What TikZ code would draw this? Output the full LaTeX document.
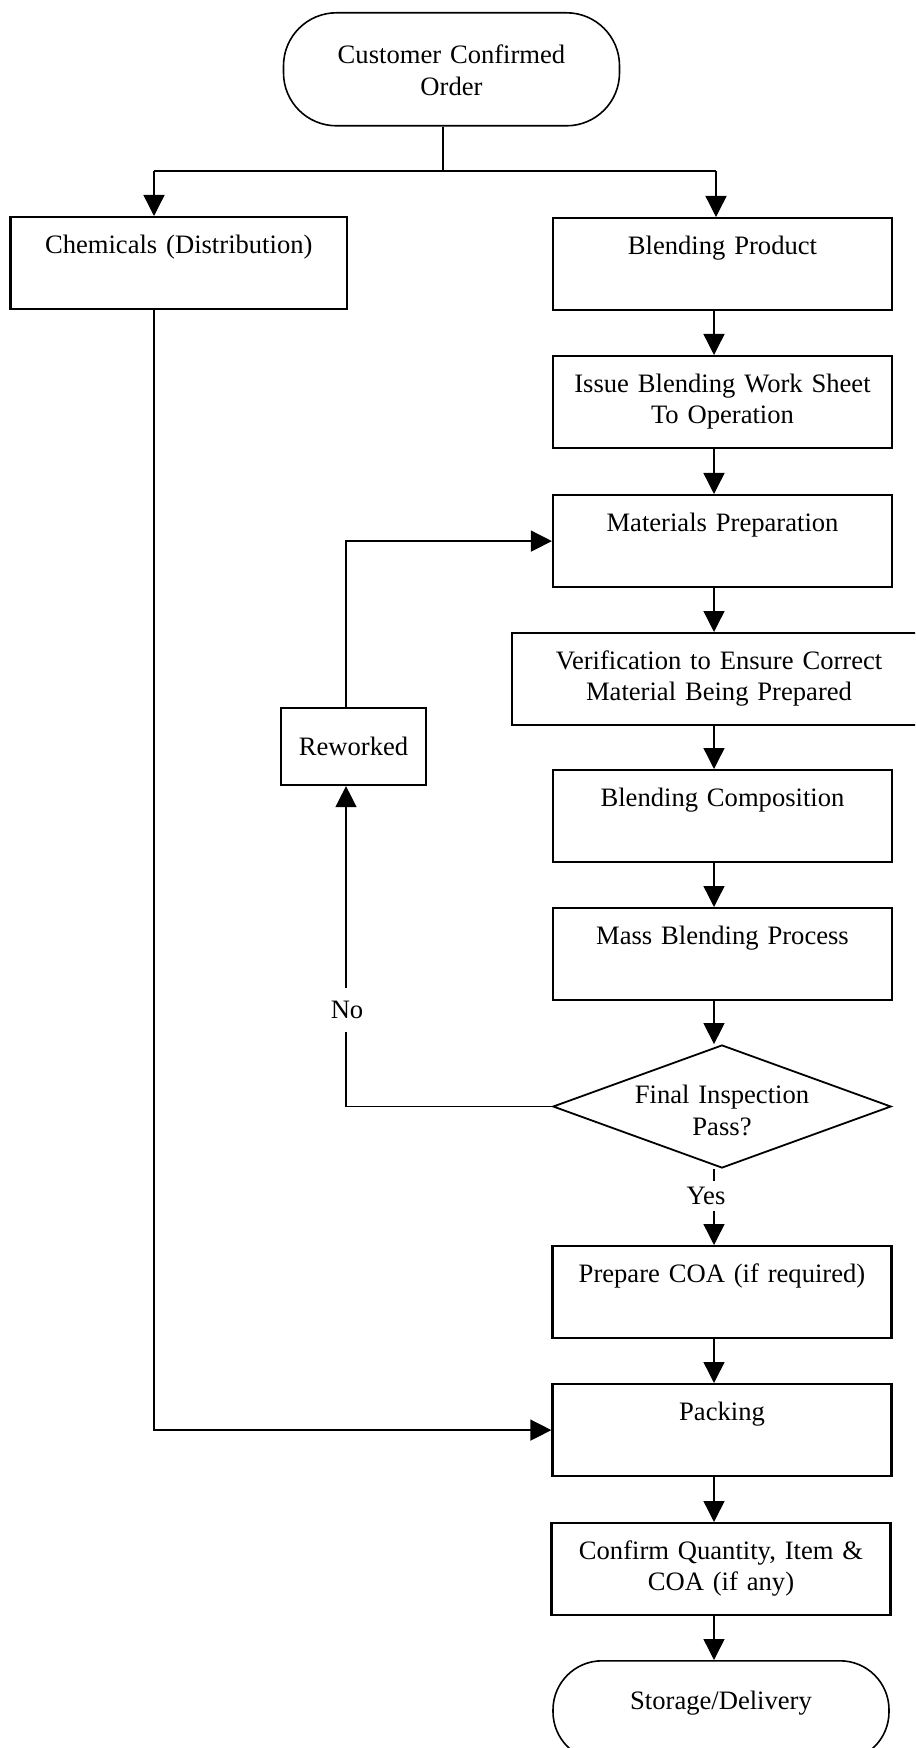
\documentclass[tikz,border=0pt]{standalone}
\usepackage{fontspec}
\setmainfont{Liberation Serif}
\usetikzlibrary{arrows.meta,shapes.geometric}

\begin{document}
\begin{tikzpicture}[x=0.5pt,y=-0.5pt,
  font=\fontsize{13.3pt}{15.75pt}\selectfont,
  procbox/.style={draw, line width=1.1pt, rectangle, align=center, inner sep=0pt,
    text width=#1, text height=18pt, text depth=28pt},
  procbox/.default=169.5pt,
  terminal/.style={draw, line width=0.8pt, rectangle, rounded corners=#1,
    align=center, inner sep=0pt, text width=168pt},
  terminal/.default=24pt,
  decision/.style={diamond, draw, line width=0.9pt, aspect=2.75, inner sep=0pt,
    minimum width=169pt, minimum height=61.5pt, align=center, text width=90pt,
    text height=13pt, text depth=15.75pt},
  reworkbox/.style={draw, line width=1.1pt, rectangle, minimum width=72.5pt,
    minimum height=38.5pt, inner sep=0pt},
  link/.style={line width=0.7pt},
  flow/.style={line width=0.7pt, -{Triangle[length=10.5pt,width=10.5pt]}}
]
\useasboundingbox (0,0) rectangle (915,1748);
\fill[white] (0,0) rectangle (915,1748);
\clip (0,0) rectangle (915,1748);

% terminals
\node[terminal=26.5pt, text height=25.5pt, text depth=31pt, anchor=north] (top) at (451.5,12)
  {Customer Confirmed\\Order};
\node[terminal=24.5pt, text height=24.5pt, text depth=25.5pt, anchor=north] (store) at (721,1660)
  {Storage/Delivery};

% process boxes
\node[procbox=168.25pt, anchor=north] (chem)  at (178.75,216) {Chemicals (Distribution)};
\node[procbox, anchor=north] (blend) at (722.5,217) {Blending Product};
\node[procbox, anchor=north] (issue) at (722.5,355) {Issue Blending Work Sheet\\To Operation};
\node[procbox, anchor=north] (mat)   at (722.5,494) {Materials Preparation};
\node[procbox=207pt, anchor=north] (ver) at (719,632) {Verification to Ensure Correct\\Material Being Prepared};
\node[procbox, anchor=north] (comp)  at (722.5,769) {Blending Composition};
\node[procbox, anchor=north] (mass)  at (722.5,907) {Mass Blending Process};
\node[procbox, anchor=north] (coa)   at (722,1245) {Prepare COA (if required)};
\node[procbox, anchor=north] (pack)  at (722,1383) {Packing};
\node[procbox, anchor=north] (conf)  at (721,1522) {Confirm Quantity, Item \&\\COA (if any)};

\node[reworkbox] (rew) at (353.5,746.5) {Reworked};
\node[decision] (dec) at (722,1106.5) {Final Inspection\\Pass?};

% branch labels
\node[inner ysep=6.5pt, inner xsep=2pt] (no) at (347,1010) {No};
\node[inner ysep=3pt, inner xsep=2pt] (yes) at (706,1196) {Yes};

% routing points
\coordinate (split) at (443,171);
\coordinate (cl) at (154,171);
\coordinate (cr) at (716,171);
\coordinate (col) at (714,0);
\coordinate (lx) at (346,0);

% connectors
\draw[link] (top.south -| split) -- (split);
\draw[link] (cl) -- (cr);
\draw[flow] (cl) -- (cl |- chem.north);
\draw[flow] (cr) -- (cr |- blend.north);
\draw[flow] (blend.south -| col) -- (issue.north -| col);
\draw[flow] (issue.south -| col) -- (mat.north -| col);
\draw[flow] (mat.south -| col) -- (ver.north -| col);
\draw[flow] (ver.south -| col) -- (comp.north -| col);
\draw[flow] (comp.south -| col) -- (mass.north -| col);
\draw[flow] (mass.south -| col) -- (dec.north -| col);
\draw[link] (dec.south -| col) -- (yes.north -| col);
\draw[flow] (yes.south -| col) -- (coa.north -| col);
\draw[flow] (coa.south -| col) -- (pack.north -| col);
\draw[flow] (pack.south -| col) -- (conf.north -| col);
\draw[flow] (conf.south -| col) -- (store.north -| col);
\draw[flow] (chem.south -| cl) |- (pack.west);
\draw[link] (dec.west) -| (no.south -| lx);
\draw[flow] (no.north -| lx) -- (rew.south -| lx);
\draw[flow] (rew.north -| lx) |- (mat.west);
\end{tikzpicture}
\end{document}
